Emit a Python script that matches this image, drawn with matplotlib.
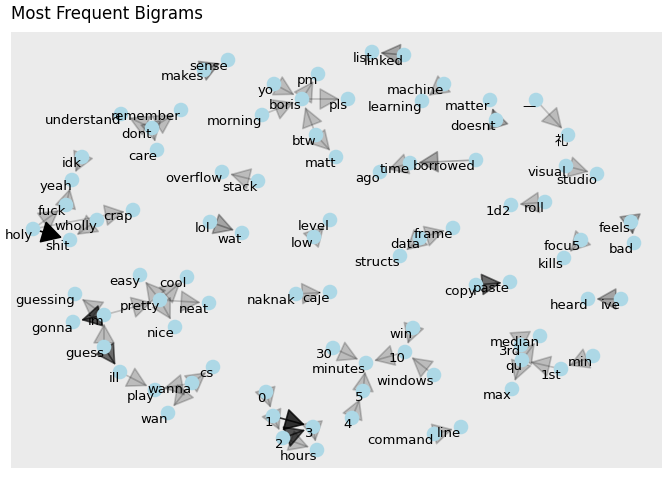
import matplotlib
matplotlib.use('Agg')
import matplotlib.pyplot as plt
from matplotlib.patches import FancyArrowPatch

# node layout positions (pixel-like units)
names = ['sense','makes','list','linked','pm','yo','boris','pls','morning','btw','matt',
	'machine','learning','matter','doesnt','—','礼','understand','remember','dont','care',
	'idk','yeah','fuck','crap','wholly','holy','shit','overflow','stack','lol','wat',
	'level','low','ago','time','borrowed','visual','studio','1d2','roll','frame','data',
	'structs','feels','bad','focu5','kills','copy','paste','naknak','caje','easy','cool',
	'guessing','pretty','neat','nice','im','gonna','heard','ive','guess','ill','wanna','cs',
	'play','wan','win','10','30','minutes','windows','3rd','median','qu','min','1st','max',
	'5','4','0','1','2','3','hours','command','line']
xs = [228,204,372,404,318,274,302,348,262,316,336,444,422,490,496,536,568,121,181,152,157,
	82,72,66,133,97,33,70,222,258,210,242,330,314,380,410,476,566,597,511,545,453,420,
	400,631,634,581,564,476,510,296,330,140,187,75,160,209,175,104,73,588,621,104,120,192,213,
	155,168,413,405,333,366,434,521,540,522,593,561,512,363,352,266,273,283,313,317,434,461]
ys = [60,70,52,55,74,84,99,99,115,135,157,84,101,100,120,100,135,114,110,128,150,
	157,180,205,210,220,229,240,172,181,222,233,220,237,172,163,160,166,174,205,202,228,238,
	256,222,243,240,258,285,282,294,292,275,277,294,300,303,327,315,322,299,299,347,372,383,367,
	390,413,328,352,348,363,375,345,336,360,356,369,389,391,418,392,416,438,427,450,434,427]

# edges: from, to, count-based alpha
e_from = ['makes','linked','yo','boris','boris','morning','btw','btw','machine','doesnt','—',
	'dont','dont','dont','fuck','idk','holy','holy','holy','wholly','stack','lol','low',
	'borrowed','time','visual','roll','data','data','feels','focu5','copy','naknak',
	'pretty','pretty','pretty','pretty','im','im','im','guess','guess','ill','wanna','wanna',
	'wanna','ive','win','windows','30','10','5','1st','3rd','qu','qu','min',
	'0','1','2','2','3','4','1','command']
e_to = ['sense','list','boris','pm','pls','boris','boris','matt','learning','matter','礼',
	'remember','understand','care','yeah','yeah','shit','fuck','crap','shit','overflow','wat','level',
	'time','ago','studio','1d2','frame','structs','bad','kills','paste','caje',
	'easy','cool','neat','nice','pretty','guessing','gonna','im','ill','play','play','cs',
	'wan','heard','10','10','minutes','minutes','minutes','qu','qu','median','max','1st',
	'1','3','hours','3','hours','5','2','line']
e_alpha = [0.3,0.3,0.2,0.2,0.2,0.2,0.2,0.2,0.2,0.3,0.2,
	0.2,0.2,0.2,0.2,0.2,1.0,0.2,0.2,0.2,0.2,0.3,0.2,
	0.3,0.2,0.2,0.2,0.2,0.2,0.3,0.2,0.55,0.2,
	0.2,0.2,0.2,0.2,0.2,0.2,0.65,0.2,0.55,0.2,0.2,0.2,
	0.2,0.3,0.2,0.2,0.2,0.2,0.2,0.2,0.2,0.2,0.2,0.2,
	0.2,0.8,0.2,0.65,0.2,0.2,0.2,0.2]

pos = {n: (x, y) for n, x, y in zip(names, xs, ys)}

fig = plt.figure(figsize=(6.72, 4.8), dpi=100)
ax = fig.add_axes([11/672, 12/480, 651/672, 436/480])
ax.set_facecolor('#EBEBEB')
ax.set_xlim(11, 662)
ax.set_ylim(468, 32)
ax.set_xticks([])
ax.set_yticks([])
for s in ax.spines.values():
	s.set_visible(False)

for a, b, al in zip(e_from, e_to, e_alpha):
	arr = FancyArrowPatch(pos[a], pos[b], arrowstyle='-|>,head_length=0.8,head_width=0.45',
		mutation_scale=16, shrinkA=0, shrinkB=6, color='black', alpha=al, lw=1.2, zorder=1)
	ax.add_patch(arr)

ax.scatter(xs, ys, s=110, color='lightblue', zorder=2, edgecolors='none')
for n, x, y in zip(names, xs, ys):
	ax.text(x, y, n, ha='right', va='top', fontsize=9.5, zorder=3,
		family=['DejaVu Sans', 'Noto Sans CJK JP'])

fig.text(11/672, 1 - 14/480, 'Most Frequent Bigrams', fontsize=12, va='center', ha='left')
fig.savefig('out.png', dpi=100)
